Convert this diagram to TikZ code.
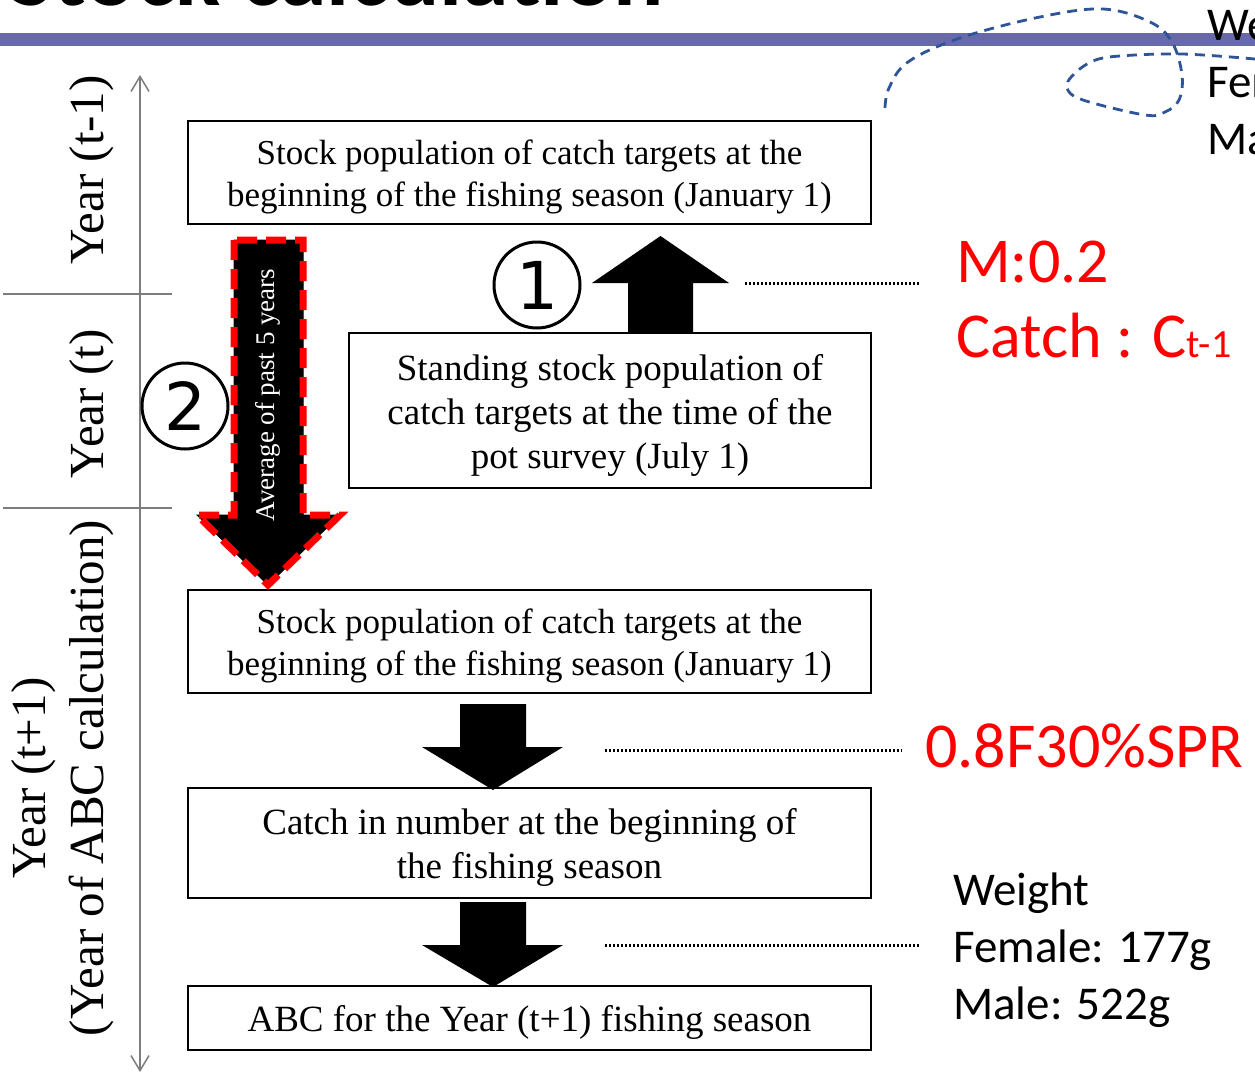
\documentclass[tikz,border=0pt]{standalone}
\usepackage{fontspec}
\setmainfont{Liberation Serif}
\newfontfamily\calfont{Carlito}
\newfontfamily\djfont{DejaVu Sans}
\usetikzlibrary{arrows.meta}
\definecolor{barpurple}{RGB}{103,105,168}
\definecolor{curveblue}{RGB}{47,85,151}
\definecolor{axisgray}{RGB}{125,125,125}
\newcommand{\lowstrut}[1]{\rule{0pt}{#1}}
\begin{document}
\begin{tikzpicture}[x=1pt,y=-1pt,
  box/.style={draw=black, line width=2pt, inner sep=0pt, align=center},
  fontA/.style={font=\fontsize{35}{42}\selectfont},
  fontB/.style={font=\fontsize{37}{44}\selectfont},
  yearlbl/.style={rotate=90, inner sep=0pt, align=center, font=\fontsize{49}{58}\selectfont},
  blockarrow/.style={fill=black, draw=black, line width=0.5pt},
  dotline/.style={line width=3pt, dash pattern=on 2.2pt off 1.8pt},
  numcircle/.style={circle, draw=black, line width=3pt, minimum size=86pt, inner sep=0pt, font=\djfont\fontsize{66}{66}\selectfont},
  redtxt/.style={anchor=base west, inner sep=0pt, text=red, font=\calfont\fontsize{64}{70}\selectfont},
  blktxt/.style={anchor=base west, inner sep=0pt, text=black, font=\calfont\fontsize{47}{57}\selectfont},
  axisline/.style={draw=axisgray, line width=1.5pt}
]
\clip (0,0) rectangle (1255,1074);
\fill[white] (0,0) rectangle (1255,1074);
% header
\fill[barpurple] (0,33) rectangle (1255,46);
\node[anchor=base west, inner sep=0pt, font=\calfont\bfseries\fontsize{94}{100}\selectfont] (title) at (9,5) {Stock calculation};
\draw[curveblue, line width=2.8pt, dash pattern=on 10pt off 7pt] plot[smooth, tension=0.6] coordinates {(885,108) (889,88) (908,62) (960,38) (1040,17) (1103,9) (1150,22) (1172,42) (1182,75) (1179,100) (1165,112) (1145,115) (1083,100) (1067,88) (1073,75) (1093,61) (1120,56) (1182,54) (1255,59)};
\node[blktxt] (tw1) at (1207,40) {Weight};
\node[blktxt] (tw2) at (1207,97) {Female};
\node[blktxt] (tw3) at (1207,154) {Male};

% time axis
\draw[axisline, {Straight Barb[length=15pt,width=18pt]}-{Straight Barb[length=15pt,width=18pt]}] (140,75) -- (140,1072);
\draw[axisline] (3,294) -- (172,294);
\draw[axisline] (3,508) -- (172,508);
\node[yearlbl] (y1) at (92,170) {Year (t-1)};
\node[yearlbl] (y2) at (92,404) {Year (t)};
\node[yearlbl] (y3) at (63,778) {Year (t+1)\\(Year of ABC calculation)};

% boxes
\node[box, fontA, minimum width=683pt, minimum height=103pt] (b1) at (529.5,172.5) {\lowstrut{33pt}Stock population of catch targets at the\\beginning of the fishing season (January 1)};
\node[box, fontB, minimum width=522pt, minimum height=155pt] (b2) at (610,410.5) {\lowstrut{35pt}Standing stock population of\\catch targets at the time of the\\pot survey (July 1)};
\node[box, fontA, minimum width=683pt, minimum height=103pt] (b3) at (529.5,641.5) {\lowstrut{33pt}Stock population of catch targets at the\\beginning of the fishing season (January 1)};
\node[box, fontB, minimum width=683pt, minimum height=110pt] (b4) at (529.5,843) {\lowstrut{35pt}Catch in number at the beginning of\\the fishing season};
\node[box, fontB, minimum width=683pt, minimum height=64pt] (b5) at (529.5,1018) {\lowstrut{35pt}ABC for the Year (t+1) fishing season};

% arrow 1 (up)
\fill[black] (628,332) -- (628,283) -- (592,283) -- (660.5,236) -- (729,283) -- (693,283) -- (693,332) -- cycle;
\node[numcircle] (n1) at (537,285) {1};
\coordinate (d1s) at (745,283);
\coordinate (d1e) at (920,283);
\draw[dotline] (d1s) -- (d1e);
\node[redtxt] (m) at (956,282) {M:0.2};
\node[redtxt] (catch) at (956,357) {Catch : C{\fontsize{40}{40}\selectfont t-1}};

% arrow 2 (red dashed)
\path[fill=black, draw=black, line width=1pt] (234,240) -- (234,515) -- (197,515) -- (268,585) -- (340,515) -- (303,515) -- (303,240) -- cycle;
\draw[red, line width=7pt, dash pattern=on 20pt off 9pt] (234,240) -- (234,515) -- (197,515) -- (268,585) -- (340,515) -- (303,515) -- (303,240) -- cycle;
\node[rotate=90, text=white, inner sep=0pt, font=\fontsize{27}{27}\selectfont] (avg) at (268,395) {Average of past 5 years};
\node[numcircle] (n2) at (185,406) {2};

% arrow 3
\fill[black] (460,704) -- (460,747) -- (422,747) -- (493,790) -- (563,747) -- (526,747) -- (526,704) -- cycle;
\coordinate (d2s) at (605,750);
\coordinate (d2e) at (902,750);
\draw[dotline] (d2s) -- (d2e);
\node[redtxt] (spr) at (925,767) {0.8F30\%SPR};

% arrow 4
\fill[black] (460,902) -- (460,945) -- (422,945) -- (493,987) -- (563,945) -- (526,945) -- (526,902) -- cycle;
\coordinate (d3s) at (605,945);
\coordinate (d3e) at (920,945);
\draw[dotline] (d3s) -- (d3e);
\node[blktxt] (w1) at (953,905) {Weight};
\node[blktxt] (w2) at (953,962) {Female: 177g};
\node[blktxt] (w3) at (953,1019) {Male: 522g};
\end{tikzpicture}
\end{document}
